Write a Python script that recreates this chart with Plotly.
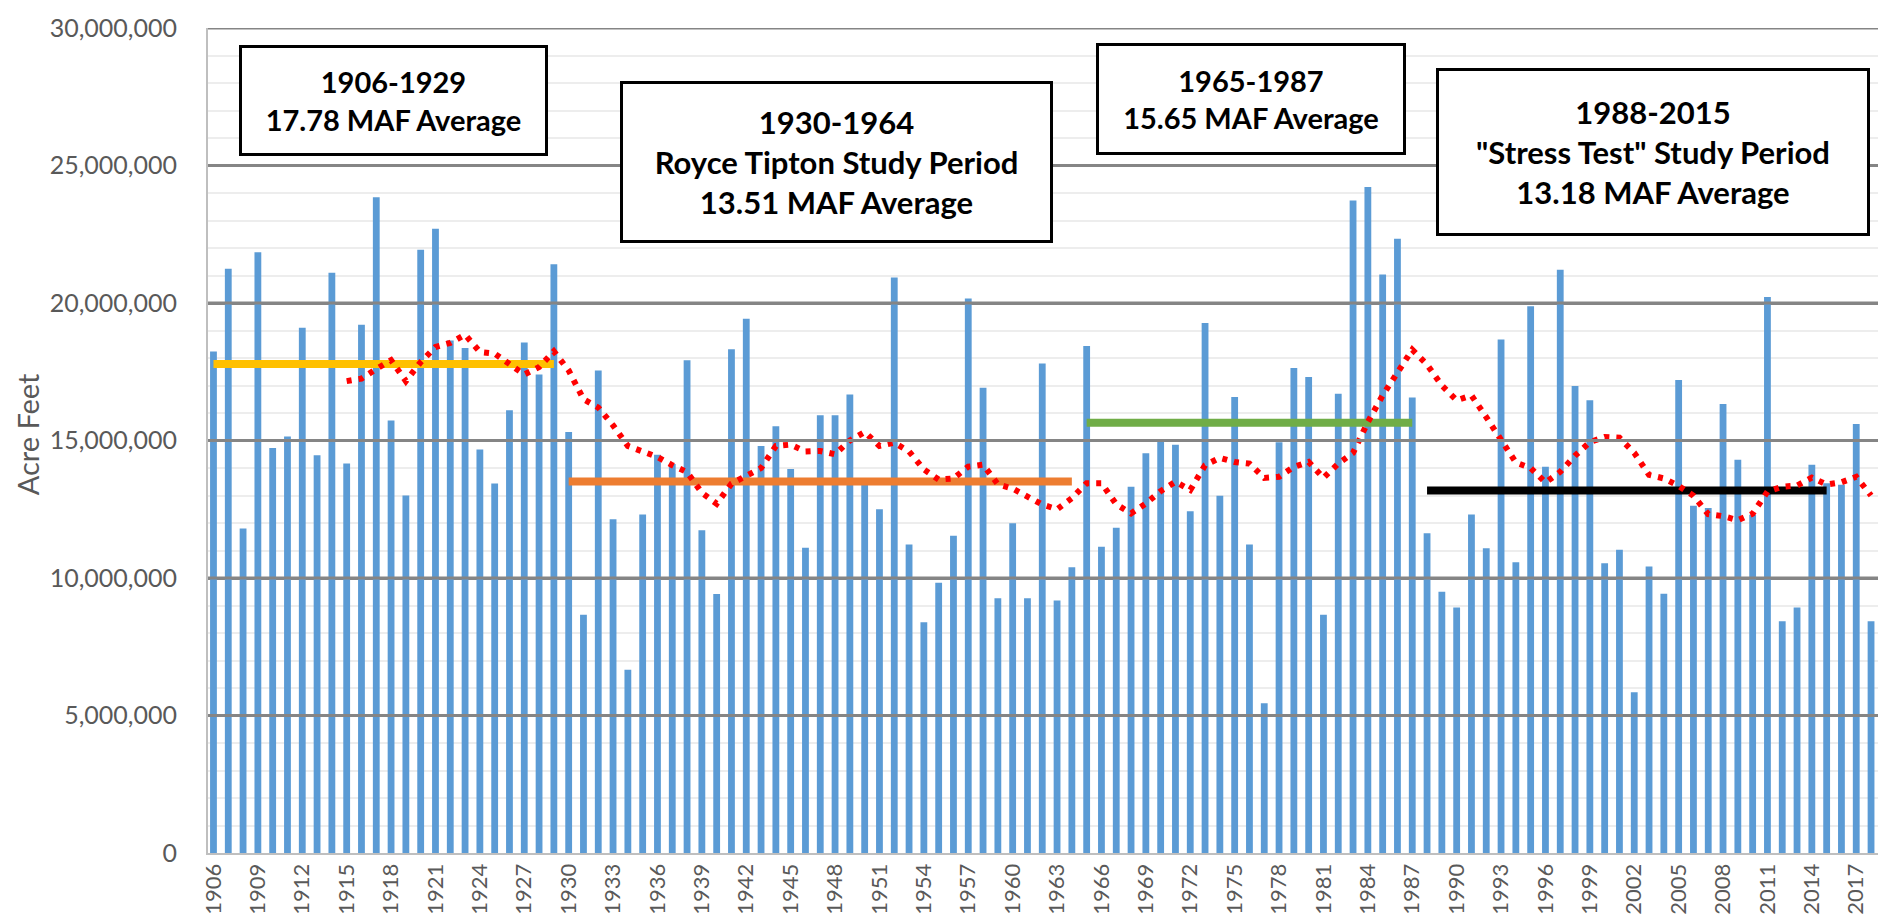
import plotly.graph_objects as go

# ---------------- data ----------------
years = list(range(1906, 2019))
flow_af = [
    18240000, 21250000, 11800000, 21850000, 14730000, 15150000, 19100000, 14460000, 21100000, 14160000,  # 1906-1915
    19210000, 23850000, 15730000, 13000000, 21940000, 22700000, 18640000, 18360000, 14670000, 13440000,  # 1916-1925
    16100000, 18560000, 17400000, 21410000, 15310000, 8660000, 17550000, 12140000, 6660000, 12310000,    # 1926-1935
    14480000, 14150000, 17920000, 11740000, 9420000, 18320000, 19430000, 14800000, 15520000, 13960000,   # 1936-1945
    11100000, 15920000, 15920000, 16670000, 13500000, 12500000, 20930000, 11220000, 8390000, 9830000,    # 1946-1955
    11540000, 20160000, 16920000, 9260000, 11990000, 9260000, 17800000, 9180000, 10390000, 18440000,     # 1956-1965
    11140000, 11830000, 13320000, 14540000, 15000000, 14850000, 12430000, 19270000, 12990000, 16580000,  # 1966-1975
    11220000, 5450000, 14940000, 17640000, 17310000, 8660000, 16700000, 23730000, 24220000, 21040000,    # 1976-1985
    22340000, 16560000, 11630000, 9500000, 8930000, 12310000, 11080000, 18670000, 10570000, 19880000,    # 1986-1995
    14050000, 21210000, 16980000, 16460000, 10540000, 11030000, 5850000, 10420000, 9430000, 17200000,    # 1996-2005
    12630000, 12550000, 16330000, 14300000, 12300000, 20220000, 8430000, 8930000, 14120000, 13450000,    # 2006-2015
    13390000, 15600000, 8430000,                                                                           # 2016-2018
]

ma_years = list(range(1915, 2019))
moving_avg_af = [
    17160000, 17250000, 17600000, 17920000, 17160000, 17850000, 18400000, 18550000, 18850000, 18220000,  # 1915-1924
    18160000, 17800000, 17400000, 17670000, 18240000, 17550000, 16500000, 16200000, 15550000, 14800000,  # 1925-1934
    14600000, 14400000, 14100000, 13850000, 13100000, 12700000, 13430000, 13720000, 14000000, 14800000,  # 1935-1944
    14850000, 14600000, 14620000, 14500000, 15000000, 15310000, 14800000, 14920000, 14600000, 13950000,  # 1945-1954
    13580000, 13620000, 14050000, 14120000, 13410000, 13250000, 12950000, 12670000, 12500000, 12900000,  # 1955-1964
    13450000, 13450000, 12680000, 12350000, 12710000, 13160000, 13500000, 13200000, 14100000, 14370000,  # 1965-1974
    14220000, 14160000, 13640000, 13680000, 14040000, 14220000, 13640000, 14160000, 14550000, 15670000,  # 1975-1984
    16640000, 17490000, 18300000, 17760000, 17000000, 16460000, 16640000, 15850000, 15070000, 14200000,  # 1985-1994
    14000000, 13470000, 13860000, 14450000, 14940000, 15130000, 15100000, 14550000, 13750000, 13620000,  # 1995-2004
    13350000, 12990000, 12320000, 12250000, 12100000, 12340000, 13140000, 13320000, 13360000, 13650000,  # 2005-2014
    13400000, 13480000, 13680000, 13000000,                                                                # 2015-2018
]

period_start = [1906, 1930, 1965, 1988]
period_end = [1929, 1964, 1987, 2015]
period_avg_af = [17780000, 13510000, 15650000, 13180000]
period_labels = [
    "1906-1929<br>17.78 MAF Average",
    "1930-1964<br>Royce Tipton Study Period<br>13.51 MAF Average",
    "1965-1987<br>15.65 MAF Average",
    "1988-2015<br>\"Stress Test\" Study Period<br>13.18 MAF Average",
]

tick_years = list(range(1906, 2018, 3))
tick_labels = [str(y) for y in tick_years]
y_ticks = [0, 5000000, 10000000, 15000000, 20000000, 25000000, 30000000]

# ---------------- styling ----------------
FONT = "Lato"
GRAY_TXT = "#595959"
period_colors = ["#FFC000", "#ED7D31", "#70AD47", "#000000"]
box_pos = [  # (x paper center, y paper center, width px, height px, font size)
    (0.1111, 0.9121, 309, 111, 29),
    (0.3763, 0.8376, 433, 162, 31),
    (0.6246, 0.9139, 310, 112, 29),
    (0.8653, 0.8497, 434, 168, 31),
]

fig = go.Figure()

fig.add_trace(go.Bar(
    x=years, y=flow_af, width=0.46,
    marker=dict(color="#5B9BD5", line=dict(width=0)),
    hoverinfo="x+y",
))

for s, e, v, c in zip(period_start, period_end, period_avg_af, period_colors):
    fig.add_trace(go.Scatter(
        x=[s, e], y=[v, v], mode="lines",
        line=dict(color=c, width=8),
        hoverinfo="y",
    ))

fig.add_trace(go.Scatter(
    x=ma_years, y=moving_avg_af, mode="lines",
    line=dict(color="#FF0000", width=6, dash="5px,7px"),
    hoverinfo="x+y",
))

# major gridlines drawn above the bars, as in the reference
for v in y_ticks[1:]:
    fig.add_shape(type="line", xref="paper", yref="y", x0=0, x1=1, y0=v, y1=v,
                  line=dict(color="#858585", width=3), layer="above")

for (px, py, w, h, fs), txt in zip(box_pos, period_labels):
    fig.add_annotation(
        x=px, y=py, xref="paper", yref="paper", xanchor="center", yanchor="middle",
        text="<b>" + txt + "</b>", showarrow=False,
        font=dict(family=FONT, size=fs, color="#000000"),
        width=w - 6, height=h - 6, align="center", valign="middle",
        bgcolor="white", bordercolor="#000000", borderwidth=3, borderpad=0,
    )

# y-axis title
fig.add_annotation(
    x=-0.108, y=0.507, xref="paper", yref="paper", xanchor="center", yanchor="middle",
    text="Acre Feet", textangle=-90, showarrow=False,
    font=dict(family=FONT, size=29, color=GRAY_TXT),
)

fig.update_layout(
    width=1900, height=919,
    margin=dict(l=200, r=30, t=20, b=74, autoexpand=False),
    plot_bgcolor="white", paper_bgcolor="white",
    showlegend=False,
    font=dict(family=FONT, color=GRAY_TXT),
)

fig.update_xaxes(
    range=[1905.63, 2018.47],
    tickmode="array", tickvals=tick_years, ticktext=tick_labels,
    tickangle=-90, tickfont=dict(family=FONT, size=22, color=GRAY_TXT),
    showgrid=False, zeroline=False,
    showline=True, linecolor="#BFBFBF", linewidth=2,
    ticks="", ticklabelstandoff=0, automargin=False,
)

fig.update_yaxes(
    range=[0, 30000000],
    tickmode="array", tickvals=y_ticks, tickformat=",d",
    tickfont=dict(family=FONT, size=25, color=GRAY_TXT),
    showgrid=True, gridcolor="#858585", gridwidth=3,
    minor=dict(dtick=1000000, showgrid=True, gridcolor="#EDEDED", gridwidth=2),
    zeroline=False,
    showline=True, linecolor="#BFBFBF", linewidth=2,
    ticks="", ticklabelstandoff=24, automargin=False,
)

fig.write_html("out.html")
